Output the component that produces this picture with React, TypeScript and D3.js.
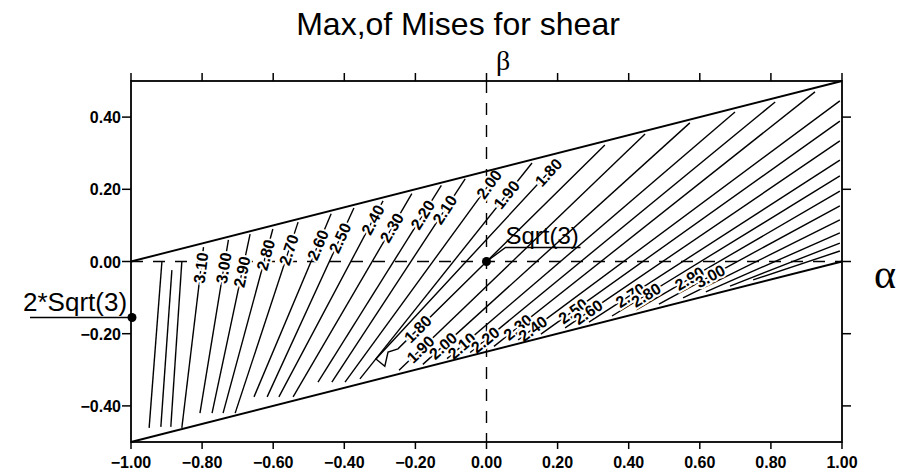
import React from "react";
import * as d3 from "d3";

// ---- data ----
const xTicks = [-1, -0.8, -0.6, -0.4, -0.2, 0, 0.2, 0.4, 0.6, 0.8, 1];
const yTicks = [-0.4, -0.2, 0, 0.2, 0.4];
// domain boundary (alpha, beta)
const upperEdge: [number, number][] = [[-1, 0], [1, 0.5]];
const lowerEdge: [number, number][] = [[-1, -0.5], [1, 0]];

// left contour family: level, polyline (alpha, beta), label anchor
const leftLevels = [3.4, 3.3, 3.2, 3.1, 3.0, 2.9, 2.8, 2.7, 2.6, 2.5, 2.4, 2.3, 2.2, 2.1, 2.0, 1.9, 1.8];
const leftLines: [number, number][][] = [
  [[-0.913, 0.0], [-0.949, -0.461]],
  [[-0.885, -0.024], [-0.916, -0.458]],
  [[-0.857, 0.0], [-0.888, -0.458]],
  [[-0.796, 0.04], [-0.857, -0.461]],
  [[-0.726, 0.06], [-0.806, -0.42]],
  [[-0.665, 0.076], [-0.772, -0.42]],
  [[-0.601, 0.09], [-0.741, -0.42]],
  [[-0.53, 0.109], [-0.707, -0.42]],
  [[-0.437, 0.132], [-0.654, -0.375]],
  [[-0.373, 0.148], [-0.617, -0.375]],
  [[-0.291, 0.168], [-0.584, -0.375]],
  [[-0.21, 0.188], [-0.544, -0.375]],
  [[-0.127, 0.211], [-0.474, -0.334]],
  [[-0.06, 0.229], [-0.435, -0.334]],
  [[0.035, 0.251], [-0.398, -0.334]],
  [[0.128, 0.273], [-0.356, -0.325]],
  [[0.207, 0.281], [-0.311, -0.27], [-0.286, -0.29], [-0.277, -0.251], [-0.249, -0.242], [0.333, 0.323]],
];
const leftLabels: ([number, number] | null)[] = [
  null, null, null,
  [-0.803, -0.018], [-0.738, -0.018], [-0.688, -0.029], [-0.62, 0.018], [-0.556, 0.032],
  [-0.474, 0.046], [-0.412, 0.065], [-0.319, 0.115], [-0.266, 0.093], [-0.179, 0.129],
  [-0.117, 0.143], [0.01, 0.212], [0.058, 0.184], [0.173, 0.248],
];
const extraLabels: { level: number; at: [number, number] }[] = [
  { level: 1.8, at: [-0.193, -0.187] },
];

// right contour family
const rightLevels = [1.9, 2.0, 2.1, 2.2, 2.3, 2.4, 2.5, 2.6, 2.7, 2.8, 2.9, 3.0, 3.1, 3.2, 3.3, 3.4];
const rightLines: [number, number][][] = [
  [[-0.246, -0.301], [0.446, 0.353]],
  [[-0.179, -0.285], [0.572, 0.384]],
  [[-0.111, -0.269], [0.699, 0.414]],
  [[-0.046, -0.252], [0.812, 0.442]],
  [[0.021, -0.235], [0.924, 0.47]],
  [[0.089, -0.217], [0.994, 0.445]],
  [[0.153, -0.201], [0.994, 0.389]],
  [[0.221, -0.184], [0.994, 0.334]],
  [[0.288, -0.168], [0.994, 0.281]],
  [[0.353, -0.151], [0.994, 0.237]],
  [[0.421, -0.134], [0.994, 0.195]],
  [[0.485, -0.118], [0.994, 0.154]],
  [[0.553, -0.101], [0.994, 0.115]],
  [[0.617, -0.084], [0.994, 0.079]],
  [[0.685, -0.068], [0.994, 0.051]],
  [[0.75, -0.051], [0.994, 0.029]],
];
const rightLabels: ([number, number] | null)[] = [
  [-0.184, -0.245], [-0.122, -0.234], [-0.069, -0.234], [-0.001, -0.22], [0.083, -0.176],
  [0.131, -0.187], [0.243, -0.137], [0.286, -0.14], [0.404, -0.093], [0.449, -0.093],
  [0.572, -0.049], [0.629, -0.04], null, null, null, null,
];

// marked points
const markers = [
  { name: "Sqrt(3)", alpha: 0, beta: 0 },
  { name: "2*Sqrt(3)", alpha: -1, beta: -0.155 },
];

const W = 900, H = 475;
const x = d3.scaleLinear().domain([-1, 1]).range([131, 842]);
const y = d3.scaleLinear().domain([-0.5, 0.5]).range([442, 81]);
const fmt = d3.format(".2f");
const line = d3.line<[number, number]>().x((d) => x(d[0])).y((d) => y(d[1]));

function labelPlacement(pts: [number, number][], at: [number, number]) {
  const P = pts.map((p) => [x(p[0]), y(p[1])]);
  const q = [x(at[0]), y(at[1])];
  let best = { d: Infinity, px: 0, py: 0, ang: 0 };
  for (let i = 0; i < P.length - 1; i++) {
    const [x1, y1] = P[i], [x2, y2] = P[i + 1];
    const dx = x2 - x1, dy = y2 - y1;
    const L2 = dx * dx + dy * dy;
    let t = ((q[0] - x1) * dx + (q[1] - y1) * dy) / L2;
    t = Math.max(0, Math.min(1, t));
    const px = x1 + t * dx, py = y1 + t * dy;
    const d = Math.hypot(px - q[0], py - q[1]);
    if (d < best.d) {
      let ang = (Math.atan2(dy, dx) * 180) / Math.PI;
      if (ang > 90) ang -= 180;
      if (ang < -90) ang += 180;
      best = { d, px, py, ang };
    }
  }
  return best;
}

function Label({ pts, at, level }: { pts: [number, number][]; at: [number, number]; level: number }) {
  const p = labelPlacement(pts, at);
  return (
    <text
      transform={`translate(${p.px},${p.py}) rotate(${p.ang})`}
      textAnchor="middle"
      dominantBaseline="central"
      fontFamily="'Liberation Sans', Arial, sans-serif"
      fontWeight="bold"
      fontSize={16}
      fill="#000"
      stroke="#fff"
      strokeWidth={4}
      style={{ paintOrder: "stroke" }}
    >
      {fmt(level)}
    </text>
  );
}

export default function App() {
  const sans = "'Liberation Sans', Arial, sans-serif";
  const serif = "'Liberation Serif', 'DejaVu Serif', serif";
  const x0 = x(0), y0 = y(0);
  const left = x(-1), right = x(1), top = y(0.5), bottom = y(-0.5);
  return (
    <svg width={W} height={H} style={{ position: "absolute", left: 0, top: 0, background: "#fff" }}>
      <rect width={W} height={H} fill="#fff" />
      {/* title */}
      <text x={458} y={35} textAnchor="middle" fontFamily={sans} fontSize={32}>
        Max,of Mises for shear
      </text>
      <text x={503} y={70} textAnchor="middle" fontFamily={serif} fontSize={28}>β</text>
      <text x={885} y={288} textAnchor="middle" fontFamily={serif} fontSize={42}>α</text>

      {/* dashed axes */}
      <line x1={x0} x2={x0} y1={top} y2={bottom} stroke="#000" strokeWidth={1.4} strokeDasharray="12 10" />
      <line x1={left} x2={right} y1={y0} y2={y0} stroke="#000" strokeWidth={1.4} strokeDasharray="12 10" />

      {/* contours */}
      <g fill="none" stroke="#000" strokeWidth={1.4}>
        {leftLines.map((pts, i) => (
          <path key={"l" + i} d={line(pts) || ""} />
        ))}
        {rightLines.map((pts, i) => (
          <path key={"r" + i} d={line(pts) || ""} />
        ))}
      </g>
      {leftLines.map((pts, i) =>
        leftLabels[i] ? <Label key={"ll" + i} pts={pts} at={leftLabels[i] as [number, number]} level={leftLevels[i]} /> : null
      )}
      {extraLabels.map((e, i) => (
        <Label key={"el" + i} pts={leftLines[leftLines.length - 1]} at={e.at} level={e.level} />
      ))}
      {rightLines.map((pts, i) =>
        rightLabels[i] ? <Label key={"rl" + i} pts={pts} at={rightLabels[i] as [number, number]} level={rightLevels[i]} /> : null
      )}

      {/* domain edges */}
      <path d={line(upperEdge) || ""} stroke="#000" strokeWidth={1.9} fill="none" />
      <path d={line(lowerEdge) || ""} stroke="#000" strokeWidth={1.9} fill="none" />

      {/* frame */}
      <rect x={left} y={top} width={right - left} height={bottom - top} fill="none" stroke="#000" strokeWidth={1.8} />
      {xTicks.map((t) => (
        <g key={"xt" + t}>
          <line x1={x(t)} x2={x(t)} y1={bottom} y2={bottom + 7} stroke="#000" strokeWidth={1.5} />
          <line x1={x(t)} x2={x(t)} y1={top} y2={top - 8} stroke="#000" strokeWidth={1.5} />
          <text x={x(t)} y={468} textAnchor="middle" fontFamily={sans} fontWeight="bold" fontSize={16}>
            {fmt(t)}
          </text>
        </g>
      ))}
      {yTicks.map((t) => (
        <g key={"yt" + t}>
          <line x1={left - 9} x2={left} y1={y(t)} y2={y(t)} stroke="#000" strokeWidth={1.5} />
          <line x1={right} x2={right + 9} y1={y(t)} y2={y(t)} stroke="#000" strokeWidth={1.5} />
          <text x={121} y={y(t) + 6} textAnchor="end" fontFamily={sans} fontWeight="bold" fontSize={16}>
            {fmt(t)}
          </text>
        </g>
      ))}

      {/* markers */}
      <circle cx={x(markers[0].alpha)} cy={y(markers[0].beta)} r={4.5} fill="#000" />
      <path d={`M${x0},${y0} L${x0 + 19},${y0 - 14} H${x0 + 94}`} fill="none" stroke="#000" strokeWidth={1.4} />
      <text x={x0 + 19} y={y0 - 18} fontFamily={sans} fontSize={24}>{markers[0].name}</text>

      <circle cx={x(markers[1].alpha) + 1} cy={y(markers[1].beta)} r={4.5} fill="#000" />
      <line x1={30} x2={x(markers[1].alpha)} y1={y(markers[1].beta)} y2={y(markers[1].beta)} stroke="#000" strokeWidth={1.4} />
      <text x={23} y={y(markers[1].beta) - 6} fontFamily={sans} fontSize={26}>{markers[1].name}</text>
    </svg>
  );
}
